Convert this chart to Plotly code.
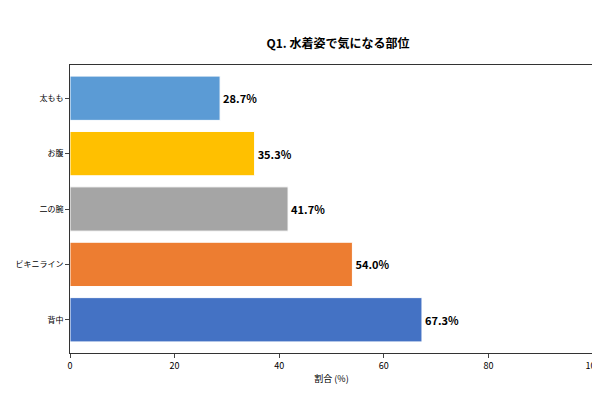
import plotly.graph_objects as go

categories = ["背中", "ビキニライン", "二の腕", "お腹", "太もも"]
values = [67.3, 54.0, 41.7, 35.3, 28.7]
colors = ["#4472C4", "#ED7D31", "#A5A5A5", "#FFC000", "#5B9BD5"]
labels = [f"<b>{v:.1f}%</b>" for v in values]
xticks = [0, 20, 40, 60, 80, 100]

font = "Noto Sans CJK JP"
fig = go.Figure(go.Bar(
    y=categories, x=values, orientation="h",
    marker=dict(color=colors, line=dict(color="white", width=1)),
    width=0.8, text=labels, textposition="outside",
    textfont=dict(size=11, color="black", family=font),
    cliponaxis=False,
))
fig.update_layout(
    width=600, height=400, plot_bgcolor="white", paper_bgcolor="white",
    margin=dict(l=62, r=15, t=57, b=55, autoexpand=False),
    title=dict(text="<b>Q1. 水着姿で気になる部位</b>", x=0.55, xanchor="center", y=0.92,
               font=dict(size=12, family=font, color="black")),
    font=dict(family=font, color="black", size=9),
    showlegend=False,
)
fig.update_xaxes(range=[0, 100], tickvals=xticks, ticks="outside", ticklen=4,
                 showgrid=False, showline=True, mirror=True, linecolor="#333", linewidth=1,
                 automargin=False,
                 title=dict(text="割合 (%)", font=dict(size=9), standoff=4), tickfont=dict(size=9))
fig.update_yaxes(ticks="outside", ticklen=4, showgrid=False, showline=True, mirror=True,
                 automargin=False,
                 linecolor="#333", linewidth=1, tickfont=dict(size=8), range=[-0.6, 4.6])
fig.write_html("out.html")
